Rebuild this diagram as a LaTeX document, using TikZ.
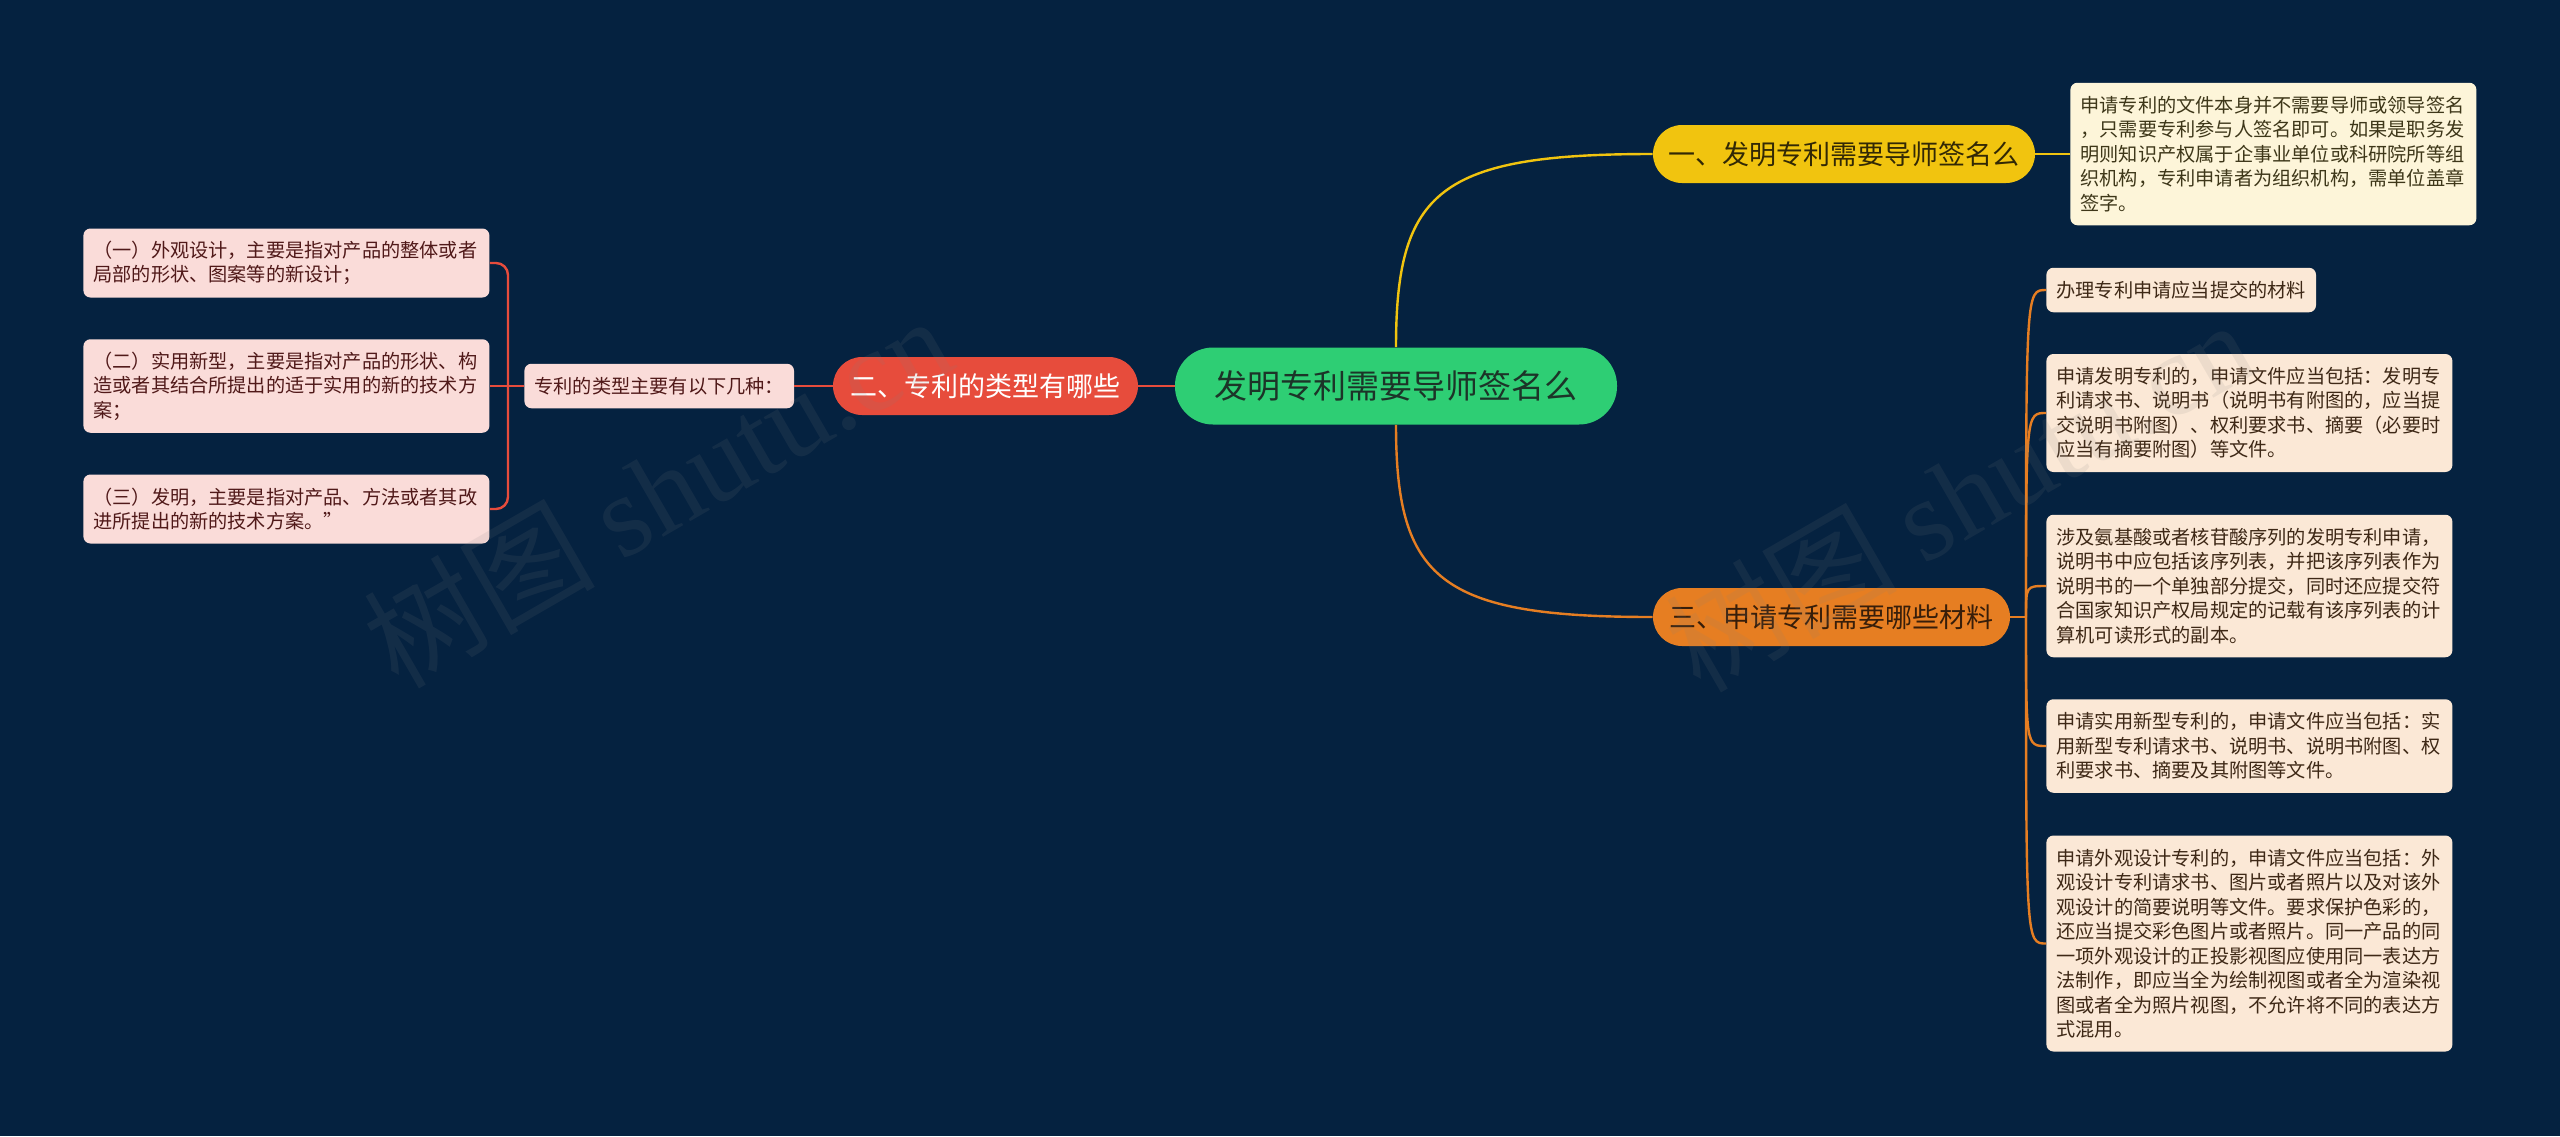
\documentclass[tikz,border=0pt]{standalone}
\usepackage{fontspec}
\setmainfont{Noto Sans CJK SC}
\newfontfamily\wmserif{Liberation Serif}
\definecolor{bg}{RGB}{5,34,64}
\definecolor{cRoot}{RGB}{46,206,116}
\definecolor{cRootT}{RGB}{28,52,40}
\definecolor{cYel}{RGB}{241,196,15}
\definecolor{cYelT}{RGB}{50,40,5}
\definecolor{cOrg}{RGB}{230,126,34}
\definecolor{cOrgT}{RGB}{55,30,10}
\definecolor{cRed}{RGB}{231,76,60}
\definecolor{lYel}{RGB}{253,245,217}
\definecolor{lYelT}{RGB}{62,55,25}
\definecolor{lOrg}{RGB}{251,232,214}
\definecolor{lOrgT}{RGB}{62,40,22}
\definecolor{lRed}{RGB}{250,220,217}
\definecolor{lRedT}{RGB}{80,25,25}
\begin{document}
\begin{tikzpicture}[x=0.5pt,y=-0.5pt,
  mainnode/.style={rounded corners=14.5pt, minimum height=29pt, inner sep=0pt, font=\fontsize{13.5pt}{16pt}\selectfont},
  rootnode/.style={rounded corners=19pt, minimum height=38.5pt, minimum width=221pt, inner sep=0pt, fill=cRoot, text=cRootT, font=\fontsize{16.5pt}{20pt}\selectfont},
  leaf/.style={anchor=west, rounded corners=3.5pt, align=left, inner xsep=5pt, inner ysep=0pt, font=\fontsize{9.6pt}{12.25pt}\selectfont},
  wide/.style={text width=193pt},
  yleaf/.style={leaf, fill=lYel, text=lYelT},
  oleaf/.style={leaf, fill=lOrg, text=lOrgT},
  rleaf/.style={leaf, fill=lRed, text=lRedT},
  yline/.style={draw=cYel, line width=1.2pt},
  oline/.style={draw=cOrg, line width=1.2pt},
  rline/.style={draw=cRed, line width=1.2pt},
  wmark/.style={rotate=30, opacity=0.12, text=gray, inner sep=0pt, font=\fontsize{58pt}{60pt}\selectfont},
]
\useasboundingbox (0,0) rectangle (2560,1136);
\fill[bg] (0,0) rectangle (2560,1136);

% main nodes
\node[rootnode] (root) at (1396,386) {发明专利需要导师签名么};
\node[mainnode, fill=cYel, text=cYelT, minimum width=191pt] (n1) at (1844,154) {一、发明专利需要导师签名么};
\node[mainnode, fill=cOrg, text=cOrgT, minimum width=178.5pt] (n3) at (1831.5,617) {三、申请专利需要哪些材料};
\node[mainnode, fill=cRed, text=white, minimum width=152.5pt] (n2) at (985.5,386) {二、专利的类型有哪些};

% right leaves
\node[yleaf, wide, minimum height=71.25pt] (r1) at (2070,154) {申请专利的文件本身并不需要导师或领导签名\\，只需要专利参与人签名即可。如果是职务发\\明则知识产权属于企事业单位或科研院所等组\\织机构，专利申请者为组织机构，需单位盖章\\签字。};
\node[oleaf, minimum height=22.25pt] (r3a) at (2046,290) {办理专利申请应当提交的材料};
\node[oleaf, wide, minimum height=59pt] (r3b) at (2046,413) {申请发明专利的，申请文件应当包括：发明专\\利请求书、说明书（说明书有附图的，应当提\\交说明书附图）、权利要求书、摘要（必要时\\应当有摘要附图）等文件。};
\node[oleaf, wide, minimum height=71.25pt] (r3c) at (2046,586) {涉及氨基酸或者核苷酸序列的发明专利申请，\\说明书中应包括该序列表，并把该序列表作为\\说明书的一个单独部分提交，同时还应提交符\\合国家知识产权局规定的记载有该序列表的计\\算机可读形式的副本。};
\node[oleaf, wide, minimum height=46.75pt] (r3d) at (2046,746) {申请实用新型专利的，申请文件应当包括：实\\用新型专利请求书、说明书、说明书附图、权\\利要求书、摘要及其附图等文件。};
\node[oleaf, wide, minimum height=108pt] (r3e) at (2046,943.5) {申请外观设计专利的，申请文件应当包括：外\\观设计专利请求书、图片或者照片以及对该外\\观设计的简要说明等文件。要求保护色彩的，\\还应当提交彩色图片或者照片。同一产品的同\\一项外观设计的正投影视图应使用同一表达方\\法制作，即应当全为绘制视图或者全为渲染视\\图或者全为照片视图，不允许将不同的表达方\\式混用。};

% left leaves
\node[rleaf, minimum height=22.25pt] (lt) at (524,386) {专利的类型主要有以下几种：};
\node[rleaf, wide, minimum height=34.5pt] (l1) at (83,263) {（一）外观设计，主要是指对产品的整体或者\\局部的形状、图案等的新设计；};
\node[rleaf, wide, minimum height=46.75pt] (l2) at (83,386) {（二）实用新型，主要是指对产品的形状、构\\造或者其结合所提出的适于实用的新的技术方\\案；};
\node[rleaf, wide, minimum height=34.5pt] (l3) at (83,509) {（三）发明，主要是指对产品、方法或者其改\\进所提出的新的技术方案。”};

% connectors
\draw[yline] (root.north) .. controls (1396,190) and (1440,154) .. (n1.west);
\draw[oline] (root.south) .. controls (1396,580) and (1440,617) .. (n3.west);
\draw[rline] (root.west) -- (n2.east);
\draw[rline] (n2.west) -- (lt.east);
\draw[yline] (n1.east) -- (r1.west);

\coordinate (ob) at (2026,617);
\draw[oline] (n3.east) -- (ob);
\foreach \t in {r3a,r3b,r3c,r3d,r3e}{
  \draw[oline] (ob) .. controls (ob|-\t.west) and (ob|-\t.west) .. (\t.west);
}

\coordinate (lb) at (508,386);
\draw[rline] (lt.west) -- (l2.east);
\draw[rline, rounded corners=6pt] (lb) |- (l1.east);
\draw[rline, rounded corners=6pt] (lb) |- (l3.east);

% watermark
\node[wmark] (wm1) at (657,490) {树图 {\wmserif shutu.cn}};
\node[wmark] (wm2) at (1959,494) {树图 {\wmserif shutu.cn}};
\end{tikzpicture}
\end{document}
